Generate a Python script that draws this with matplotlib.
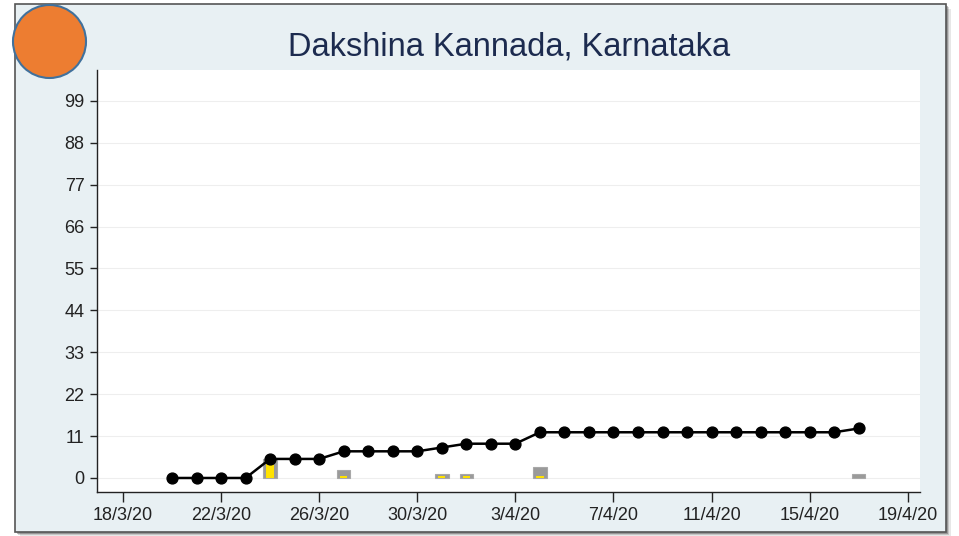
import numpy as np
import pandas as pd
import matplotlib
matplotlib.use("Agg")
import matplotlib.pyplot as plt
import matplotlib.dates as mdates
from matplotlib.patches import Rectangle, Ellipse

plt.rcParams['font.family'] = ['Liberation Sans', 'DejaVu Sans']

# cumulative cases (line)
dates = pd.date_range("2020-03-20", "2020-04-17", freq="D")
cumulative = [0, 0, 0, 0, 5, 5, 5, 7, 7, 7, 7, 8, 9, 9, 9,
              12, 12, 12, 12, 12, 12, 12, 12, 12, 12, 12, 12, 12, 13]

# daily bars
bar_dates = pd.to_datetime(["2020-03-24", "2020-03-27", "2020-03-31",
                            "2020-04-01", "2020-04-04", "2020-04-17"])
bar_grey = [5, 2, 1, 1, 3, 1]
bar_yellow = [5, 0.5, 0.5, 0.5, 0.5, 0]

yticks = [0, 11, 22, 33, 44, 55, 66, 77, 88, 99]
xtick_dates = pd.date_range("2020-03-18", "2020-04-19", freq="4D")
xtick_labels = ["18/3/20", "22/3/20", "26/3/20", "30/3/20", "3/4/20",
                "7/4/20", "11/4/20", "15/4/20", "19/4/20"]

W, H = 959, 536
fig = plt.figure(figsize=(W / 100, H / 100), dpi=100)
fig.patch.set_facecolor("white")

def fx(px):
    return px / W

def fy(py):
    return 1 - py / H

# drop shadow + frame
for off, a in [(5, 0.12), (3, 0.2), (1.5, 0.35)]:
    fig.patches.append(Rectangle((fx(15 + off), fy(532 + off)), fx(931), 528 / H,
                                 transform=fig.transFigure, facecolor="#404040",
                                 alpha=a, edgecolor="none", zorder=0))
fig.patches.append(Rectangle((fx(15), fy(532)), fx(931), 528 / H,
                             transform=fig.transFigure, facecolor="#e8f0f3",
                             edgecolor="#555555", linewidth=1.2, zorder=1))

ax = fig.add_axes([fx(97), fy(492), fx(920 - 97), (492 - 70) / H])
ax.set_facecolor("white")
ax.set_zorder(2)

day = pd.Timedelta(days=1)
ax.bar(bar_dates, bar_grey, width=0.55, color="#9a9a9a", edgecolor="#a8a8a8",
       linewidth=0.8, zorder=2)
ax.bar(bar_dates, bar_yellow, width=0.3, color="#ffe200", edgecolor="none", zorder=3)

ax.plot(dates, cumulative, color="black", linewidth=1.8, marker="o",
        markersize=7.8, zorder=4)

ax.set_ylim(-3.68, 107.1)
ax.set_xlim(pd.Timestamp("2020-03-18") - 1.06 * day, pd.Timestamp("2020-03-18") + 32.5 * day)
ax.set_yticks(yticks)
ax.set_yticklabels([str(v) for v in yticks], fontsize=13)
ax.set_xticks(xtick_dates)
ax.set_xticklabels(xtick_labels, fontsize=13)
ax.yaxis.grid(True, color="#eeeeee", linewidth=0.8)
ax.set_axisbelow(True)

for s in ["top", "right"]:
    ax.spines[s].set_visible(False)
for s in ["left", "bottom"]:
    ax.spines[s].set_color("#222222")
    ax.spines[s].set_linewidth(1.0)
ax.tick_params(axis="y", length=5, width=1, pad=4, colors="#222222")
ax.tick_params(axis="x", length=7, width=1, pad=4, colors="#222222")

fig.text(fx(509), fy(47), "Dakshina Kannada, Karnataka", ha="center", va="center",
         fontsize=23.5, color="#1c2b4f", zorder=5)

fig.patches.append(Ellipse((fx(49.5), fy(41.5)), 73 / W, 73 / H,
                           transform=fig.transFigure, facecolor="#ed7d31",
                           edgecolor="#41719c", linewidth=1.5, zorder=6))

fig.savefig("out.png", dpi=100)
